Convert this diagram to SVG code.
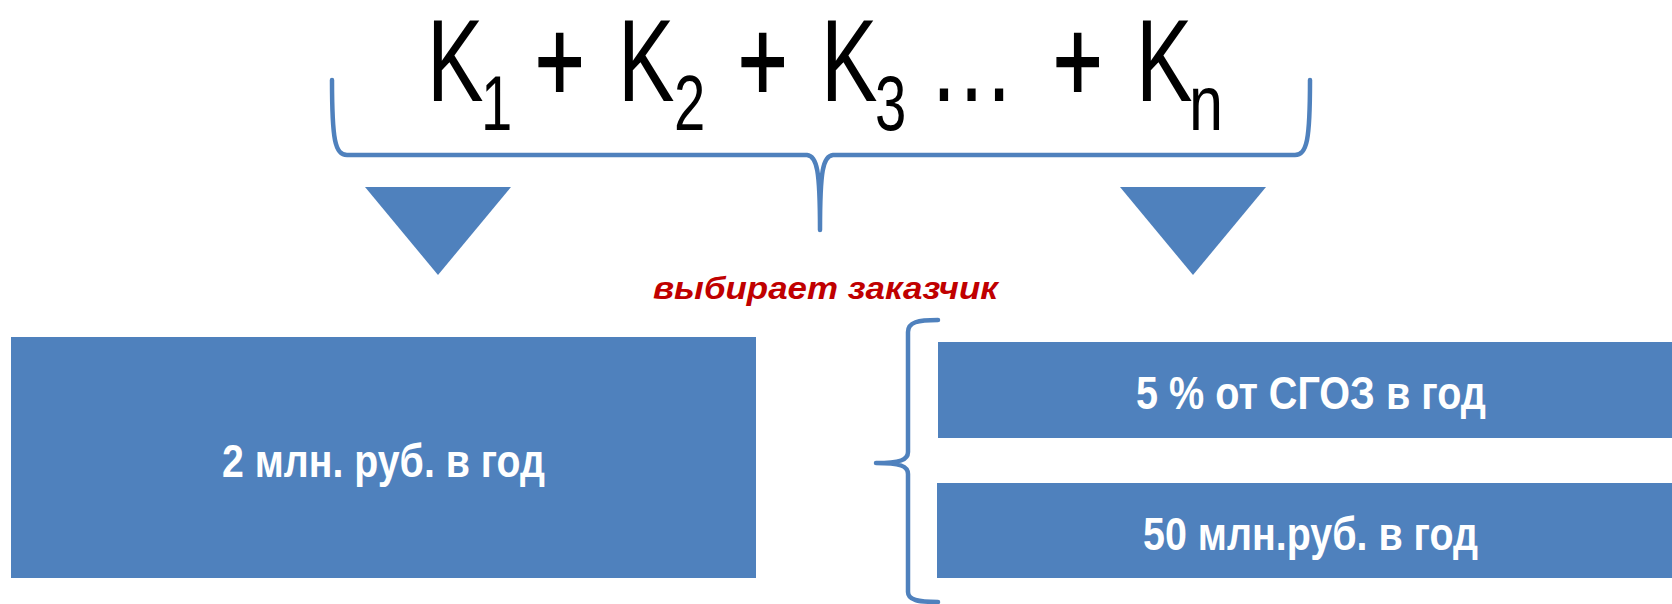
<svg xmlns="http://www.w3.org/2000/svg" width="1672" height="604" viewBox="0 0 1672 604">
  <style>
    .box { fill: #4F81BD; }
    .boxtext { font-family: "Liberation Sans", Arial, sans-serif; font-weight: bold; font-size: 46px; fill: #FFFFFF; }
    .brace { fill: none; stroke: #4F81BD; stroke-width: 4.5; stroke-linecap: round; stroke-linejoin: round; }
    .tri { fill: #4F81BD; }
    .big { font-family: "Liberation Sans", Arial, sans-serif; font-size: 116px; fill: #000000; }
    .plus { stroke: #000000; stroke-width: 2; }
    .sub { font-family: "Liberation Sans", Arial, sans-serif; font-size: 77px; fill: #000000; }
    .note { font-family: "Liberation Sans", Arial, sans-serif; font-weight: bold; font-style: italic; font-size: 32px; fill: #C00000; }
  </style>
  <rect width="1672" height="604" fill="#FFFFFF"/>

  <g id="formula">
    <text class="big" x="427" y="101" textLength="56.5" lengthAdjust="spacingAndGlyphs">K</text>
    <text class="sub" x="481" y="130" textLength="31.3" lengthAdjust="spacingAndGlyphs">1</text>
    <text class="big plus" x="535" y="101" textLength="49.4" lengthAdjust="spacingAndGlyphs">+</text>
    <text class="big" x="618" y="101" textLength="56.5" lengthAdjust="spacingAndGlyphs">K</text>
    <text class="sub" x="674" y="130" textLength="31.3" lengthAdjust="spacingAndGlyphs">2</text>
    <text class="big plus" x="738" y="101" textLength="49.4" lengthAdjust="spacingAndGlyphs">+</text>
    <text class="big" x="821" y="101" textLength="56.5" lengthAdjust="spacingAndGlyphs">K</text>
    <text class="sub" x="875" y="130" textLength="31.3" lengthAdjust="spacingAndGlyphs">3</text>
    <text class="big" x="928" y="101" textLength="87" lengthAdjust="spacingAndGlyphs">…</text>
    <text class="big plus" x="1053" y="101" textLength="49.4" lengthAdjust="spacingAndGlyphs">+</text>
    <text class="big" x="1136" y="101" textLength="56.5" lengthAdjust="spacingAndGlyphs">K</text>
    <text class="sub" x="1189" y="130" textLength="34" lengthAdjust="spacingAndGlyphs">n</text>
  </g>

  <g id="connectors">
    <path class="brace" d="M332,80 C332,140 335,155 347,155 L807,155 C817,156 820,170 820,230 M820,230 C820,170 823,156 833,155 L1295,155 C1307,155 1310,140 1310,80"/>
    <polygon class="tri" points="365,187 511,187 438,275"/>
    <polygon class="tri" points="1120,187 1266,187 1193,275"/>
    <path class="brace" d="M938,320 C918,320 908,322 908,332 L908,452 C908,460 900,463 876,463 C900,463 908,466 908,474 L908,592 C908,600 918,602 938,602"/>
  </g>

  <g id="label-choice">
    <text class="note" x="653" y="299" textLength="345" lengthAdjust="spacingAndGlyphs">выбирает заказчик</text>
  </g>

  <g id="node-2mln">
    <rect class="box" x="11" y="337" width="745" height="241"/>
    <text class="boxtext" x="383.5" y="477" text-anchor="middle" textLength="323" lengthAdjust="spacingAndGlyphs">2 млн. руб. в год</text>
  </g>

  <g id="node-5pct">
    <rect class="box" x="938" y="342" width="734" height="96"/>
    <text class="boxtext" x="1311" y="409" text-anchor="middle" textLength="350" lengthAdjust="spacingAndGlyphs">5 % от СГОЗ в год</text>
  </g>

  <g id="node-50mln">
    <rect class="box" x="937" y="483" width="735" height="95"/>
    <text class="boxtext" x="1310.5" y="550" text-anchor="middle" textLength="335" lengthAdjust="spacingAndGlyphs">50 млн.руб. в год</text>
  </g>
</svg>
